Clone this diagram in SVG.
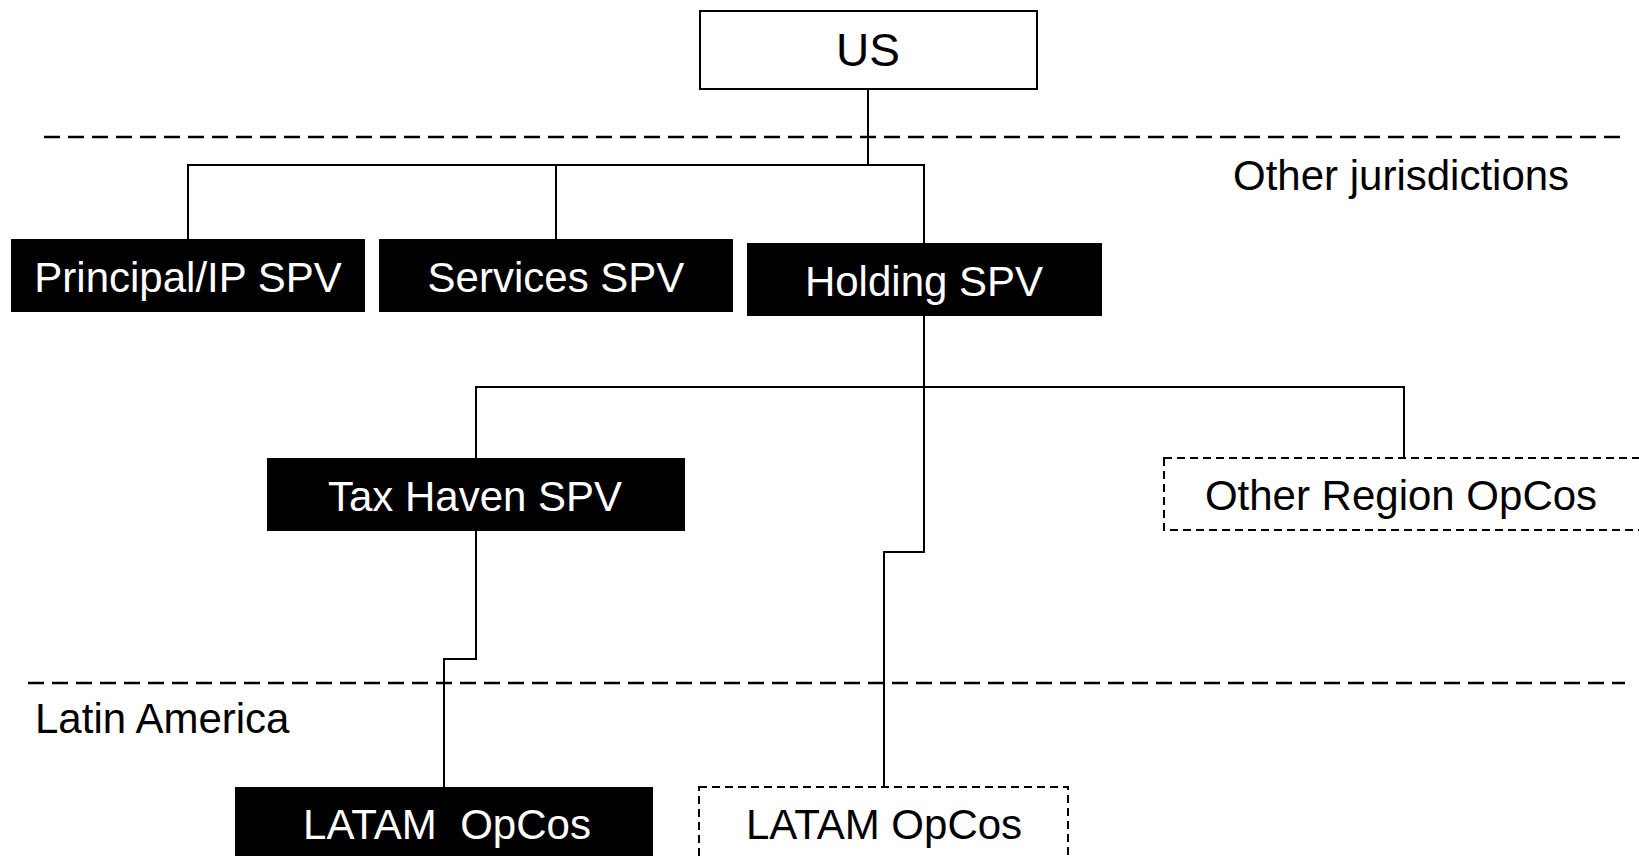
<svg xmlns="http://www.w3.org/2000/svg" width="1639" height="856" viewBox="0 0 1639 856">
  <style>
    .lbl { font-family: "Liberation Sans", Arial, sans-serif; font-size: 42px; text-anchor: middle; }
    .dark rect { fill: #000; stroke: none; }
    .dark text { fill: #fff; }
    .open rect { fill: #fff; stroke: #000; stroke-width: 2; }
    .dotted rect { fill: #fff; stroke: #000; stroke-width: 2; stroke-dasharray: 8 5; }
    .open text, .dotted text { fill: #000; }
    .border { fill: none; stroke: #000; stroke-width: 2.5; stroke-dasharray: 16 8; }
    .region { font-family: "Liberation Sans", Arial, sans-serif; font-size: 42px; fill: #000; }
    .links path { fill: none; stroke: #000; stroke-width: 2; }
  </style>

  <rect width="1639" height="856" fill="#fff"/>

  <!-- jurisdiction boundaries -->
  <g id="boundaries">
    <line class="border" x1="44" y1="137" x2="1620" y2="137"/>
    <line class="border" x1="28" y1="683" x2="1625" y2="683"/>
    <text class="region" x="1233" y="190">Other jurisdictions</text>
    <text class="region" x="35" y="733">Latin America</text>
  </g>

  <!-- ownership lines -->
  <g class="links" id="connectors">
    <path d="M868 89 V165 H924 V243"/>
    <path d="M868 165 H188 V239"/>
    <path d="M556 165 V239"/>
    <path d="M924 316 V552 H884 V787"/>
    <path d="M1404 458 V387 H476 V458"/>
    <path d="M476 531 V659 H444 V787"/>
  </g>

  <g id="us" class="open">
    <rect x="700" y="11" width="337" height="78"/>
    <text class="lbl" x="868" y="66" style="font-size:46px">US</text>
  </g>

  <g id="principal-ip-spv" class="dark">
    <rect x="11" y="239" width="354" height="73"/>
    <text class="lbl" x="188" y="292">Principal/IP SPV</text>
  </g>

  <g id="services-spv" class="dark">
    <rect x="379" y="239" width="354" height="73"/>
    <text class="lbl" x="556" y="292">Services SPV</text>
  </g>

  <g id="holding-spv" class="dark">
    <rect x="747" y="243" width="355" height="73"/>
    <text class="lbl" x="924" y="296">Holding SPV</text>
  </g>

  <g id="tax-haven-spv" class="dark">
    <rect x="267" y="458" width="418" height="73"/>
    <text class="lbl" x="475" y="511">Tax Haven SPV</text>
  </g>

  <g id="other-region-opcos" class="dotted">
    <rect x="1164" y="458" width="478" height="72"/>
    <text class="lbl" x="1401" y="510">Other Region OpCos</text>
  </g>

  <g id="latam-opcos-owned" class="dark">
    <rect x="235" y="787" width="418" height="75"/>
    <text class="lbl" x="447" y="839" xml:space="preserve">LATAM  OpCos</text>
  </g>

  <g id="latam-opcos-other" class="dotted">
    <rect x="699" y="787" width="369" height="75"/>
    <text class="lbl" x="884" y="839">LATAM OpCos</text>
  </g>
</svg>
